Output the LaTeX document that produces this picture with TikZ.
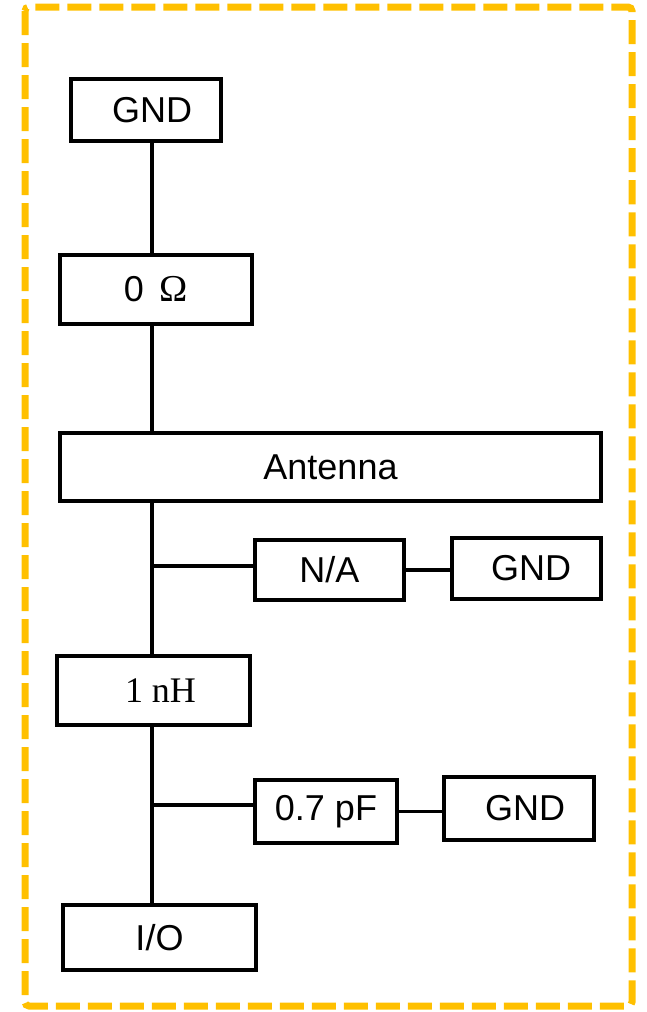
\documentclass[tikz,border=0pt]{standalone}
\usepackage{fontspec}
\setmainfont{Liberation Sans}
\newfontfamily\timesfont{Liberation Serif}
\definecolor{frameyellow}{HTML}{FFC000}
\begin{document}
\begin{tikzpicture}[x=1pt,y=-1pt,
  box/.style={draw=black, line width=4.2pt, rectangle, inner sep=0pt,
    font=\fontsize{36}{40}\selectfont},
  wire/.style={draw=black, line width=3.4pt}]
\useasboundingbox (0,0) rectangle (646,1012);
\draw[frameyellow, line width=7pt, dash pattern=on 24pt off 8pt, rounded corners=4pt]
  (25,7) rectangle (632,1006);

\node[box, minimum width=150pt, minimum height=62pt] (gndT) at (146,110) {\hspace{12pt}GND};
\node[box, minimum width=192pt, minimum height=69pt] (r0) at (156,289.5) {0\hspace{0.45em}{\timesfont\fontsize{38}{40}\selectfont Ω}};
\node[box, minimum width=541pt, minimum height=68pt] (ant) at (330.5,467) {Antenna};
\node[box, minimum width=149pt, minimum height=60pt] (na) at (329.5,570) {N/A};
\node[box, minimum width=149pt, minimum height=61pt] (gnd1) at (526.5,568.5) {\hspace{9pt}GND};
\node[box, minimum width=193pt, minimum height=69pt] (ind) at (153.5,690.5) {\hspace{14pt}{\timesfont 1 nH}};
\node[box, minimum width=142pt, minimum height=63pt] (cap) at (326,811.5) {0.7 pF};
\node[box, minimum width=150pt, minimum height=63pt] (gnd2) at (519,808.5) {\hspace{12pt}GND};
\node[box, minimum width=193pt, minimum height=65pt] (io) at (159.5,937.5) {I/O};

\coordinate (trunk) at (152,0);
\coordinate (j1) at (152,566);
\coordinate (j2) at (152,805);

\draw[wire] (gndT.south -| trunk) -- (r0.north -| trunk);
\draw[wire] (r0.south -| trunk) -- (ant.north -| trunk);
\draw[wire] (ant.south -| trunk) -- (ind.north -| trunk);
\draw[wire] (ind.south -| trunk) -- (io.north -| trunk);
\draw[wire] (j1) -- (j1 -| na.west);
\draw[wire] (na.east) -- (na.east -| gnd1.west);
\draw[wire] (j2) -- (j2 -| cap.west);
\draw[wire] (cap.east) -- (cap.east -| gnd2.west);
\end{tikzpicture}
\end{document}
